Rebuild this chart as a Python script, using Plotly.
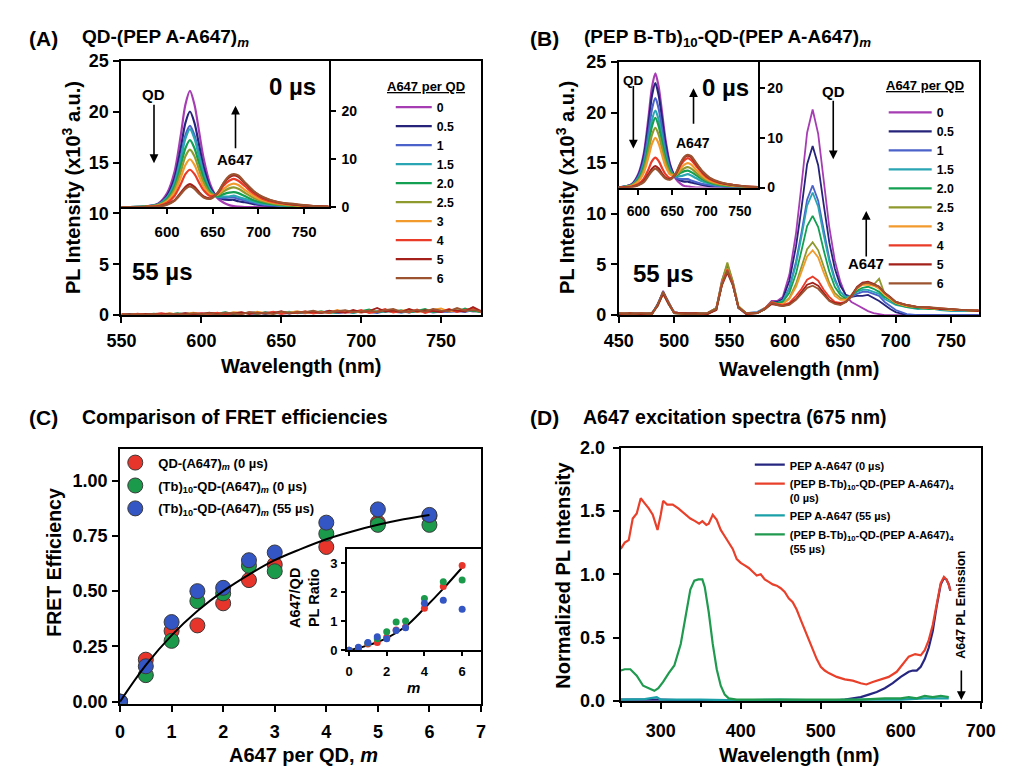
import plotly.graph_objects as go

W, H = 1012, 776
OFF = 8  # default page margin of the browser body
FONT = "Liberation Sans, Arial, Helvetica, sans-serif"


def px(x):
    return (x - OFF) / W


def py(y):
    return 1 - (y - OFF) / H


# ---------------- shared series info (A647 per QD) ----------------
series_labels = ["0", "0.5", "1", "1.5", "2.0", "2.5", "3", "4", "5", "6"]
series_colors = ["#a63db3", "#25237a", "#4a62c9", "#2aa5b3", "#14a052",
                 "#8f9a2e", "#f39a2c", "#e93b27", "#a3201b", "#9c5430"]

# ---------------- Panel A inset: 0 us spectra ----------------
wl_a_inset = [550, 575, 590, 600, 608, 615, 620, 625, 630, 635, 640, 647,
              655, 662, 668, 673, 678, 685, 695, 705, 720, 740, 760, 777]
a_in_0 = [0, 0.1, 0.7, 2.9, 7.3, 15.1, 21.4, 24.3, 21.4, 15.8, 10.2, 4.9, 1.9, 0.9, 0.4, 0.2, 0.1, 0, 0, 0, 0, 0, 0, 0]
a_in_05 = [0, 0.1, 0.6, 2.4, 6.0, 12.4, 17.6, 20.0, 17.6, 13.0, 8.4, 4.2, 2.1, 1.6, 1.5, 1.5, 1.2, 1.0, 0.6, 0.4, 0.2, 0.1, 0.04, 0]
a_in_1 = [0, 0.1, 0.5, 2.0, 5.1, 10.5, 15.0, 17.0, 15.0, 11.1, 7.2, 3.6, 2.1, 1.9, 2.0, 2.0, 1.7, 1.4, 0.9, 0.5, 0.3, 0.1, 0.05, 0]
a_in_15 = [0, 0.1, 0.5, 2.0, 4.9, 10.1, 14.3, 16.3, 14.3, 10.6, 6.9, 3.6, 2.1, 2.2, 2.2, 2.4, 2.1, 1.7, 1.1, 0.7, 0.4, 0.2, 0.1, 0]
a_in_2 = [0, 0.1, 0.4, 1.7, 4.2, 8.7, 12.3, 14.0, 12.3, 9.1, 6.0, 3.2, 2.2, 2.7, 3.0, 3.1, 2.9, 2.3, 1.4, 0.9, 0.5, 0.2, 0.1, 0]
a_in_25 = [0, 0.1, 0.4, 1.4, 3.6, 7.4, 10.6, 12.0, 10.6, 7.8, 5.1, 2.9, 2.5, 3.3, 3.9, 4.1, 3.8, 3.0, 1.9, 1.2, 0.6, 0.3, 0.1, 0]
a_in_3 = [0, 0, 0.3, 1.2, 3.0, 6.2, 8.8, 10.0, 8.8, 6.5, 4.3, 2.6, 2.6, 3.8, 4.6, 4.9, 4.6, 3.6, 2.3, 1.4, 0.8, 0.4, 0.1, 0]
a_in_4 = [0, 0, 0.2, 0.9, 2.3, 4.8, 6.9, 7.8, 6.9, 5.1, 3.5, 2.3, 2.8, 4.5, 5.5, 5.9, 5.5, 4.4, 2.8, 1.7, 0.9, 0.5, 0.2, 0.1]
a_in_5 = [0, 0, 0.1, 0.6, 1.4, 3.0, 4.2, 4.8, 4.2, 3.1, 2.2, 1.8, 2.9, 5.0, 6.2, 6.6, 6.3, 5.0, 3.2, 2.0, 1.1, 0.5, 0.2, 0.1]
a_in_6 = [0, 0, 0.1, 0.5, 1.3, 2.7, 3.8, 4.3, 3.8, 2.8, 2.0, 1.7, 2.9, 5.1, 6.5, 6.9, 6.6, 5.2, 3.3, 2.1, 1.1, 0.6, 0.2, 0.1]
a_inset_series = [a_in_0, a_in_05, a_in_1, a_in_15, a_in_2, a_in_25, a_in_3, a_in_4, a_in_5, a_in_6]

# ---------------- Panel A main: 55 us (noise only) ----------------
wl_a_main = list(range(550, 780, 5))
a55_red = [0.10, 0.00, 0.15, 0.05, 0.10, 0.20, 0.05, 0.10, 0.00, 0.15, 0.20, 0.10, 0.25, 0.05, 0.20, 0.10, 0.30, 0.15, 0.20, 0.35, 0.10, 0.25, 0.20, 0.40, 0.15, 0.30, 0.20, 0.45, 0.25, 0.30, 0.50, 0.20, 0.35, 0.60, 0.25, 0.40, 0.30, 0.55, 0.20, 0.45, 0.35, 0.60, 0.30, 0.50, 0.70, 0.30]
a55_dred = [0.05, 0.10, 0.00, 0.12, 0.08, 0.05, 0.15, 0.10, 0.20, 0.05, 0.12, 0.25, 0.10, 0.20, 0.15, 0.30, 0.10, 0.25, 0.15, 0.20, 0.40, 0.15, 0.30, 0.25, 0.35, 0.20, 0.45, 0.30, 0.25, 0.50, 0.30, 0.40, 0.70, 0.35, 0.45, 0.30, 0.60, 0.35, 0.50, 0.40, 0.30, 0.55, 0.45, 0.35, 0.80, 0.40]
a55_green = [0.00, 0.08, 0.10, 0.00, 0.15, 0.10, 0.05, 0.20, 0.10, 0.15, 0.05, 0.20, 0.15, 0.30, 0.10, 0.20, 0.25, 0.10, 0.30, 0.15, 0.25, 0.30, 0.20, 0.35, 0.25, 0.40, 0.20, 0.30, 0.35, 0.25, 0.40, 0.55, 0.30, 0.40, 0.35, 0.50, 0.25, 0.45, 0.60, 0.30, 0.40, 0.50, 0.35, 0.65, 0.40, 0.30]
a55_orange = [0.10, 0.05, 0.10, 0.12, 0.00, 0.10, 0.20, 0.05, 0.15, 0.25, 0.10, 0.15, 0.20, 0.10, 0.30, 0.25, 0.15, 0.35, 0.20, 0.15, 0.30, 0.25, 0.40, 0.20, 0.30, 0.35, 0.25, 0.50, 0.30, 0.40, 0.25, 0.45, 0.35, 0.50, 0.30, 0.40, 0.55, 0.30, 0.40, 0.50, 0.65, 0.35, 0.50, 0.40, 0.60, 0.35]
a55_blue = [0.05, 0.10, 0.05, 0.00, 0.10, 0.15, 0.10, 0.00, 0.20, 0.10, 0.15, 0.05, 0.20, 0.25, 0.10, 0.15, 0.20, 0.30, 0.10, 0.25, 0.20, 0.15, 0.30, 0.25, 0.20, 0.30, 0.40, 0.20, 0.30, 0.25, 0.35, 0.30, 0.20, 0.40, 0.30, 0.25, 0.35, 0.30, 0.45, 0.25, 0.35, 0.30, 0.40, 0.30, 0.50, 0.30]
a55_brown = [0.08, 0.00, 0.10, 0.05, 0.12, 0.00, 0.10, 0.15, 0.05, 0.20, 0.10, 0.20, 0.05, 0.25, 0.20, 0.10, 0.30, 0.20, 0.25, 0.10, 0.35, 0.20, 0.30, 0.30, 0.45, 0.25, 0.30, 0.40, 0.50, 0.30, 0.35, 0.45, 0.30, 0.50, 0.60, 0.35, 0.40, 0.50, 0.35, 0.60, 0.45, 0.40, 0.70, 0.45, 0.50, 0.40]
a55_teal = [0.05, 0.12, 0.02, 0.10, 0.05, 0.08, 0.12, 0.05, 0.15, 0.20, 0.08, 0.18, 0.22, 0.12, 0.25, 0.15, 0.20, 0.28, 0.12, 0.30, 0.22, 0.35, 0.18, 0.28, 0.40, 0.22, 0.32, 0.25, 0.45, 0.20, 0.38, 0.28, 0.45, 0.30, 0.55, 0.25, 0.40, 0.35, 0.50, 0.30, 0.45, 0.35, 0.55, 0.40, 0.45, 0.35]
a55_purple = [0.02, 0.06, 0.10, 0.04, 0.08, 0.12, 0.06, 0.10, 0.14, 0.08, 0.16, 0.10, 0.22, 0.14, 0.12, 0.25, 0.18, 0.10, 0.28, 0.20, 0.15, 0.32, 0.22, 0.18, 0.30, 0.26, 0.38, 0.20, 0.32, 0.42, 0.25, 0.36, 0.28, 0.48, 0.30, 0.38, 0.26, 0.45, 0.32, 0.55, 0.30, 0.42, 0.36, 0.50, 0.34, 0.45]
a55_series = [(a55_purple, 0), (a55_blue, 2), (a55_teal, 3), (a55_green, 4), (a55_orange, 6),
              (a55_red, 7), (a55_dred, 8), (a55_brown, 9)]

# ---------------- Panel B inset: 0 us spectra ----------------
wl_b_inset = [570, 590, 600, 608, 615, 620, 625, 630, 635, 640, 647, 655,
              662, 668, 673, 678, 685, 695, 705, 720, 740, 760, 777]
b_in_0 = [0, 0.7, 2.8, 6.9, 14.3, 20.2, 23.0, 20.2, 15.0, 9.7, 4.6, 1.8, 0.8, 0.3, 0.2, 0.1, 0, 0, 0, 0, 0, 0, 0]
b_in_05 = [0, 0.6, 2.5, 6.3, 13.0, 18.5, 21.0, 18.5, 13.7, 8.8, 4.3, 2.1, 1.4, 1.2, 1.2, 1.0, 0.8, 0.5, 0.3, 0.2, 0.1, 0, 0]
b_in_1 = [0, 0.5, 2.2, 5.4, 11.2, 15.8, 18.0, 15.8, 11.7, 7.6, 3.8, 2.0, 1.7, 1.7, 1.7, 1.4, 1.1, 0.7, 0.5, 0.2, 0.1, 0, 0]
b_in_15 = [0, 0.5, 1.9, 4.7, 9.6, 13.6, 15.5, 13.6, 10.1, 6.6, 3.4, 2.2, 2.3, 2.5, 2.7, 2.4, 1.9, 1.2, 0.8, 0.4, 0.2, 0.1, 0]
b_in_2 = [0, 0.4, 1.7, 4.2, 8.7, 12.3, 14.0, 12.3, 9.1, 6.0, 3.2, 2.4, 2.9, 3.3, 3.4, 3.1, 2.5, 1.6, 1.0, 0.5, 0.3, 0.1, 0]
b_in_25 = [0, 0.4, 1.4, 3.6, 7.4, 10.6, 12.0, 10.6, 7.8, 5.1, 2.9, 2.5, 3.3, 3.9, 4.1, 3.8, 3.0, 1.9, 1.2, 0.6, 0.3, 0.1, 0]
b_in_3 = [0, 0.3, 1.2, 3.0, 6.2, 8.8, 10.0, 8.8, 6.5, 4.3, 2.6, 2.6, 3.8, 4.6, 4.9, 4.6, 3.6, 2.3, 1.4, 0.8, 0.4, 0.1, 0]
b_in_4 = [0, 0.2, 0.7, 1.8, 3.7, 5.3, 6.0, 5.3, 3.9, 2.7, 1.9, 2.7, 4.4, 5.5, 5.9, 5.5, 4.4, 2.8, 1.7, 0.9, 0.5, 0.2, 0.1]
b_in_5 = [0, 0.1, 0.5, 1.3, 2.7, 3.8, 4.3, 3.8, 2.8, 2.0, 1.7, 2.7, 4.8, 6.1, 6.4, 6.1, 4.8, 3.1, 1.9, 1.0, 0.5, 0.2, 0.1]
b_in_6 = [0, 0.1, 0.5, 1.1, 2.4, 3.3, 3.8, 3.3, 2.5, 1.8, 1.6, 2.8, 4.9, 6.2, 6.6, 6.3, 5.0, 3.2, 2.0, 1.1, 0.5, 0.2, 0.1]
b_inset_series = [b_in_0, b_in_05, b_in_1, b_in_15, b_in_2, b_in_25, b_in_3, b_in_4, b_in_5, b_in_6]

# ---------------- Panel B main: 55 us spectra ----------------
wl_b_main = [450, 460, 470, 480, 485, 490, 495, 500, 510, 520, 530, 538, 543, 548, 553, 558,
             565, 575, 582, 588, 593, 598, 604, 610, 615, 620, 625, 630, 635, 640, 645, 650,
             655, 660, 665, 670, 675, 680, 685, 690, 695, 700, 710, 720, 730, 740, 750, 760, 775]
b55_0 = [0.1, 0.2, 0.1, 0.2, 1.0, 2.4, 1.2, 0.2, 0.1, 0.2, 0.1, 0.6, 3.4, 5.0, 3.3, 0.8, 0.2, 0.3, 0.7, 1.4, 1.4, 1.8,
         4.0, 8.1, 12.9, 18.0, 20.3, 17.9, 13.3, 8.7, 5.4, 3.3, 1.9, 1.3, 1.0, 0.7, 0.4, 0.2, 0.1, 0.0, 0.0, 0.0, 0.0, 0.0, 0.0, 0.0, 0.0, 0.0, 0.0]
b55_05 = [0.2, 0.1, 0.2, 0.1, 1.1, 2.2, 1.1, 0.3, 0.1, 0.1, 0.2, 0.7, 3.0, 4.6, 3.0, 0.7, 0.1, 0.2, 0.6, 1.3, 1.3, 1.6,
          3.4, 6.8, 10.6, 14.9, 16.7, 14.8, 10.9, 7.2, 4.6, 2.9, 2.0, 1.8, 1.9, 1.9, 2.0, 1.7, 1.4, 1.0, 0.6, 0.3, 0.0, 0.0, 0.0, 0.0, 0.0, 0.0, 0.0]
b55_1 = [0.1, 0.2, 0.2, 0.1, 1.0, 2.3, 1.3, 0.2, 0.2, 0.1, 0.1, 0.6, 3.1, 4.7, 3.1, 0.8, 0.2, 0.2, 0.6, 1.2, 1.2, 1.4,
         2.7, 5.3, 8.2, 11.4, 12.8, 11.3, 8.4, 5.6, 3.6, 2.3, 1.8, 1.8, 2.1, 2.3, 2.3, 2.1, 1.9, 1.3, 0.9, 0.5, 0.1, 0.0, 0.0, 0.0, 0.0, 0.0, 0.0]
b55_15 = [0.2, 0.1, 0.1, 0.2, 0.9, 2.2, 1.2, 0.3, 0.1, 0.2, 0.2, 0.5, 3.0, 4.9, 3.2, 0.7, 0.2, 0.3, 0.7, 1.3, 1.2, 1.4,
          2.6, 5.0, 7.8, 10.8, 12.1, 10.7, 7.9, 5.3, 3.4, 2.3, 1.8, 1.9, 2.3, 2.5, 2.5, 2.3, 2.1, 1.6, 1.3, 1.0, 0.8, 0.6, 0.7, 0.5, 0.4, 0.4, 0.4]
b55_2 = [0.1, 0.2, 0.1, 0.2, 1.0, 2.3, 1.1, 0.2, 0.1, 0.2, 0.1, 0.6, 3.2, 4.8, 3.1, 0.8, 0.2, 0.2, 0.6, 1.2, 1.2, 1.3,
         2.2, 4.1, 6.4, 8.8, 9.8, 8.7, 6.4, 4.3, 2.8, 2.0, 1.6, 1.9, 2.4, 2.7, 2.8, 2.6, 2.3, 1.8, 1.5, 1.1, 0.8, 0.7, 0.6, 0.6, 0.5, 0.5, 0.4]
b55_25 = [0.2, 0.1, 0.2, 0.1, 1.0, 2.2, 1.2, 0.2, 0.2, 0.1, 0.2, 0.7, 3.3, 5.2, 3.3, 0.9, 0.2, 0.2, 0.7, 1.3, 1.1, 1.1,
          1.7, 3.1, 4.8, 6.5, 7.2, 6.4, 4.8, 3.2, 2.2, 1.7, 1.5, 2.0, 2.7, 3.1, 3.1, 3.0, 3.6, 2.1, 1.7, 1.2, 0.9, 0.8, 0.7, 0.6, 0.6, 0.5, 0.4]
b55_3 = [0.1, 0.2, 0.1, 0.2, 0.9, 2.1, 1.1, 0.2, 0.1, 0.2, 0.1, 0.6, 3.0, 4.6, 3.0, 0.8, 0.1, 0.2, 0.6, 1.2, 1.1, 1.1,
         1.6, 2.8, 4.3, 5.8, 6.4, 5.7, 4.2, 2.9, 1.9, 1.5, 1.5, 1.9, 2.6, 3.0, 3.0, 2.9, 2.6, 2.0, 1.6, 1.2, 0.9, 0.8, 0.7, 0.6, 0.5, 0.5, 0.4]
b55_4 = [0.2, 0.1, 0.2, 0.1, 1.0, 2.2, 1.2, 0.3, 0.1, 0.1, 0.2, 0.6, 3.1, 4.5, 3.1, 0.7, 0.2, 0.2, 0.7, 1.3, 1.1, 1.0,
         1.2, 1.9, 2.6, 3.5, 3.8, 3.4, 2.5, 1.8, 1.3, 1.2, 1.3, 1.9, 2.7, 3.1, 3.2, 3.0, 2.8, 2.2, 1.7, 1.3, 1.0, 0.8, 0.7, 0.7, 0.6, 0.5, 0.5]
b55_5 = [0.1, 0.2, 0.1, 0.2, 0.9, 2.1, 1.1, 0.2, 0.2, 0.2, 0.1, 0.5, 2.9, 4.2, 2.9, 0.8, 0.1, 0.2, 0.6, 1.1, 1.0, 0.9,
         1.1, 1.6, 2.3, 3.0, 3.2, 2.9, 2.2, 1.5, 1.2, 1.1, 1.3, 1.9, 2.8, 3.2, 3.3, 3.1, 2.8, 2.2, 1.8, 1.3, 1.0, 0.8, 0.8, 0.6, 0.6, 0.5, 0.4]
b55_6 = [0.2, 0.1, 0.2, 0.1, 1.0, 2.3, 1.2, 0.2, 0.1, 0.1, 0.2, 0.6, 3.0, 4.4, 3.0, 0.7, 0.2, 0.2, 0.6, 1.2, 1.0, 0.9,
         1.0, 1.5, 2.1, 2.7, 2.9, 2.6, 2.0, 1.4, 1.1, 1.0, 1.3, 1.8, 2.7, 3.1, 3.2, 3.0, 2.8, 2.2, 1.7, 1.3, 1.0, 0.8, 0.8, 0.7, 0.6, 0.5, 0.5]
b55_series = [b55_0, b55_05, b55_1, b55_15, b55_2, b55_25, b55_3, b55_4, b55_5, b55_6]

# ---------------- Panel C: FRET efficiencies ----------------
m_vals = [0, 0.5, 1, 1.5, 2, 2.5, 3, 4, 5, 6]
eff_qd_0us = [0, 0.19, 0.32, 0.345, 0.445, 0.55, 0.62, 0.70, 0.81, 0.84]
eff_tb_0us = [0, 0.12, 0.275, 0.455, 0.49, 0.615, 0.59, 0.76, 0.80, 0.80]
eff_tb_55us = [0, 0.16, 0.36, 0.50, 0.515, 0.64, 0.675, 0.81, 0.87, 0.845]
fit_m = [0, 0.5, 1, 1.5, 2, 2.5, 3, 3.5, 4, 4.5, 5, 5.5, 6]
fit_eff = [0, 0.165, 0.30, 0.41, 0.50, 0.575, 0.64, 0.69, 0.735, 0.77, 0.80, 0.825, 0.845]

ratio_qd_0us = [0, 0.08, 0.22, 0.27, 0.45, 0.70, 0.80, 1.45, 2.20, 2.93]
ratio_tb_0us = [0, 0.08, 0.25, 0.40, 0.64, 0.98, 1.01, 1.79, 2.37, 2.43]
ratio_tb_55us = [0, 0.10, 0.27, 0.47, 0.40, 0.68, 0.78, 1.62, 1.73, 1.42]
ratio_fit_m = [0, 1, 2, 3, 4, 5, 6]
ratio_fit = [0, 0.17, 0.42, 0.82, 1.45, 2.13, 2.86]

c_colors = ["#e8352b", "#1c9a4c", "#3455c4"]
c_labels = ["QD-(A647)<sub><i>m</i></sub> (0 µs)",
            "(Tb)<sub>10</sub>-QD-(A647)<sub><i>m</i></sub> (0 µs)",
            "(Tb)<sub>10</sub>-QD-(A647)<sub><i>m</i></sub> (55 µs)"]

# ---------------- Panel D: excitation spectra ----------------
wl_d_red = [250, 255, 260, 265, 270, 275, 280, 285, 290, 296, 300, 303, 308, 315, 322, 330, 337, 343,
            348, 352, 357, 360, 365, 370, 375, 380, 385, 390, 395, 400, 405, 410, 415, 420, 425, 430,
            435, 440, 445, 450, 455, 460, 465, 470, 475, 480, 485, 490, 495, 500, 505, 510, 520, 530,
            540, 550, 557, 565, 575, 585, 595, 603, 610, 618, 625, 630, 635, 640, 645, 650, 654, 657, 660, 662]
d_red = [1.20, 1.25, 1.27, 1.44, 1.48, 1.60, 1.56, 1.52, 1.47, 1.35, 1.47, 1.58, 1.55, 1.55, 1.52, 1.48, 1.44, 1.42,
         1.40, 1.42, 1.39, 1.40, 1.47, 1.43, 1.35, 1.30, 1.25, 1.20, 1.12, 1.09, 1.07, 1.05, 1.02, 0.99, 1.00, 0.96,
         0.94, 0.92, 0.91, 0.89, 0.86, 0.81, 0.78, 0.72, 0.64, 0.56, 0.48, 0.40, 0.33, 0.27, 0.24, 0.22, 0.19, 0.17,
         0.16, 0.14, 0.13, 0.15, 0.17, 0.19, 0.23, 0.29, 0.35, 0.37, 0.36, 0.40, 0.48, 0.60, 0.78, 0.93, 0.98, 0.96, 0.92, 0.87]
wl_d_navy = [250, 300, 350, 400, 450, 500, 520, 530, 540, 550, 560, 570, 580, 590, 600, 605, 610, 615,
             620, 625, 630, 635, 640, 645, 650, 654, 657, 660, 662]
d_navy = [0.01, 0.01, 0.0, 0.0, 0.0, 0.0, 0.005, 0.01, 0.02, 0.03, 0.05, 0.07, 0.10, 0.14, 0.19, 0.21, 0.23, 0.24,
          0.24, 0.27, 0.33, 0.42, 0.55, 0.75, 0.92, 0.97, 0.96, 0.92, 0.87]
wl_d_teal = [250, 280, 295, 300, 350, 400, 450, 500, 550, 600, 630, 660]
d_teal = [0.01, 0.015, 0.03, 0.01, 0.01, 0.005, 0.01, 0.005, 0.01, 0.01, 0.02, 0.02]
wl_d_green = [250, 255, 262, 270, 278, 285, 292, 297, 303, 310, 317, 325, 331, 337, 342, 347, 352, 355, 360,
              365, 370, 375, 380, 385, 395, 450, 500, 550, 580, 600, 610, 620, 630, 640, 650, 660]
d_green = [0.24, 0.25, 0.25, 0.20, 0.12, 0.10, 0.08, 0.10, 0.15, 0.22, 0.28, 0.45, 0.68, 0.88, 0.95, 0.96, 0.96, 0.90, 0.70,
           0.45, 0.25, 0.12, 0.05, 0.02, 0.01, 0.01, 0.01, 0.01, 0.02, 0.02, 0.03, 0.02, 0.04, 0.03, 0.04, 0.03]
d_names = ["PEP A-A647 (0 µs)",
           "(PEP B-Tb)<sub>10</sub>-QD-(PEP A-A647)<sub>4</sub><br>(0 µs)",
           "PEP A-A647 (55 µs)",
           "(PEP B-Tb)<sub>10</sub>-QD-(PEP A-A647)<sub>4</sub><br>(55 µs)"]
d_colors = ["#262680", "#e8402a", "#1aa0a8", "#1f9a4f"]

for arr in a_inset_series:
    assert len(arr) == len(wl_a_inset)
for arr in b_inset_series:
    assert len(arr) == len(wl_b_inset)
for arr in b55_series:
    assert len(arr) == len(wl_b_main)
for arr, _ in a55_series:
    assert len(arr) == len(wl_a_main)
assert len(d_red) == len(wl_d_red) and len(d_navy) == len(wl_d_navy)
assert len(d_green) == len(wl_d_green) and len(d_teal) == len(wl_d_teal)

fig = go.Figure()

# Panel A
for arr, ci in a55_series:
    fig.add_trace(go.Scatter(x=wl_a_main, y=arr, mode="lines", xaxis="x", yaxis="y",
                             line=dict(color=series_colors[ci], width=1.8), showlegend=False))
for lab, col, arr in zip(series_labels, series_colors, a_inset_series):
    fig.add_trace(go.Scatter(x=wl_a_inset, y=arr, mode="lines", xaxis="x2", yaxis="y2", name=lab,
                             line=dict(color=col, width=2.2, shape="spline", smoothing=0.8),
                             legend="legend"))

# Panel B
for lab, col, arr in zip(series_labels, series_colors, b55_series):
    fig.add_trace(go.Scatter(x=wl_b_main, y=arr, mode="lines", xaxis="x3", yaxis="y3",
                             line=dict(color=col, width=1.8), showlegend=False))
for lab, col, arr in zip(series_labels, series_colors, b_inset_series):
    fig.add_trace(go.Scatter(x=wl_b_inset, y=arr, mode="lines", xaxis="x4", yaxis="y4", name=lab,
                             line=dict(color=col, width=2.2, shape="spline", smoothing=0.8),
                             legend="legend2"))

# Panel C
for lab, col, arr, grp in zip(c_labels, c_colors, [eff_qd_0us, eff_tb_0us, eff_tb_55us], ["c1", "c2", "c3"]):
    fig.add_trace(go.Scatter(x=m_vals, y=arr, mode="markers", xaxis="x5", yaxis="y5", name=lab,
                             marker=dict(color=col, size=15, line=dict(color="#3a3a3a", width=1)),
                             legend="legend3", legendgroup=grp))
fig.add_trace(go.Scatter(x=fit_m, y=fit_eff, mode="lines", xaxis="x5", yaxis="y5",
                         line=dict(color="black", width=2, shape="spline"), showlegend=False))
fig.add_trace(go.Scatter(x=ratio_fit_m, y=ratio_fit, mode="lines", xaxis="x6", yaxis="y6",
                         line=dict(color="black", width=2, shape="spline"), showlegend=False))
for col, arr in zip(c_colors, [ratio_qd_0us, ratio_tb_0us, ratio_tb_55us]):
    fig.add_trace(go.Scatter(x=m_vals, y=arr, mode="markers", xaxis="x6", yaxis="y6",
                             marker=dict(color=col, size=7), showlegend=False))

# Panel D
for name, col, xs, ys in zip(d_names, d_colors,
                             [wl_d_navy, wl_d_red, wl_d_teal, wl_d_green],
                             [d_navy, d_red, d_teal, d_green]):
    fig.add_trace(go.Scatter(x=xs, y=ys, mode="lines", xaxis="x7", yaxis="y7", name=name,
                             line=dict(color=col, width=2.2), legend="legend4"))


def tfont(size):
    return dict(family=FONT, size=size, color="black", weight="bold")


def axis(domain, rng, tickvals, anchor, size=18, mirror=True, ticklen=6, standoff=0, **kw):
    d = dict(domain=domain, range=rng, tickvals=tickvals, anchor=anchor, showline=True,
             linecolor="black", linewidth=2, mirror=mirror, ticks="outside", ticklen=ticklen,
             tickwidth=2, tickcolor="black", showgrid=False, zeroline=False,
             tickfont=tfont(size), fixedrange=True, ticklabelstandoff=standoff)
    d.update(kw)
    return d


layout = dict(
    width=W, height=H, margin=dict(l=0, r=0, t=0, b=0),
    paper_bgcolor="white", plot_bgcolor="rgba(0,0,0,0)",
    font=dict(family=FONT, color="black"),
    # A
    xaxis=axis([px(109.5), px(480)], [550, 775], [550, 600, 650, 700, 750], "y", standoff=2),
    yaxis=axis([py(313), py(52)], [0, 25], [0, 5, 10, 15, 20, 25], "x", standoff=1),
    xaxis2=axis([px(109.5), px(323)], [550, 777], [600, 650, 700, 750], "y2", size=15, mirror=False,
                ticklen=5, standoff=5),
    yaxis2=axis([py(202), py(52)], [0, 30.6], [0, 10, 20], "x2", size=14, mirror=False, ticklen=5,
                side="right", standoff=3),
    # B
    xaxis3=axis([px(622), px(993)], [450, 775], [450, 500, 550, 600, 650, 700, 750], "y3", standoff=2),
    yaxis3=axis([py(313), py(53)], [0, 25], [0, 5, 10, 15, 20, 25], "x3", standoff=1),
    xaxis4=axis([px(622), px(765)], [571, 776], [600, 650, 700, 750], "y4", size=14, mirror=False,
                ticklen=5, standoff=5),
    yaxis4=axis([py(182), py(53)], [0, 25.3], [0, 10, 20], "x4", size=14, mirror=False, ticklen=5,
                side="right"),
    # C
    xaxis5=axis([px(108), px(480)], [0, 7], [0, 1, 2, 3, 4, 5, 6, 7], "y5", standoff=5),
    yaxis5=axis([py(712), py(450)], [-0.01, 1.145], [0, 0.25, 0.5, 0.75, 1.0], "x5", tickformat=".2f",
                standoff=1),
    xaxis6=axis([px(342), px(480)], [-0.1, 7], [0, 2, 4, 6], "y6", size=13, ticklen=4, standoff=4),
    yaxis6=axis([py(657), py(553)], [0, 3.5], [0, 1, 2, 3], "x6", size=13, ticklen=4, standoff=1),
    # D
    xaxis7=axis([px(624), px(995)], [250, 700], [300, 400, 500, 600, 700], "y7", standoff=6,
                minor=dict(tickvals=[250, 350, 450, 550, 650], ticks="outside", ticklen=4,
                           tickwidth=2, tickcolor="black")),
    yaxis7=axis([py(709), py(449)], [0, 2.0], [0, 0.5, 1.0, 1.5, 2.0], "x7", tickformat=".1f",
                standoff=4),
    legend=dict(x=px(387), y=py(84.5), xanchor="left", yanchor="top", bgcolor="rgba(0,0,0,0)",
                font=tfont(12.3), tracegroupgap=0, itemwidth=36),
    legend2=dict(x=px(895), y=py(90), xanchor="left", yanchor="top", bgcolor="rgba(0,0,0,0)",
                 font=tfont(12.3), tracegroupgap=0, itemwidth=43),
    legend3=dict(x=px(100), y=py(449), xanchor="left", yanchor="top", bgcolor="rgba(0,0,0,0)",
                 font=tfont(13), tracegroupgap=3, itemwidth=36),
    legend4=dict(x=px(757), y=py(452.5), xanchor="left", yanchor="top", bgcolor="rgba(0,0,0,0)",
                 font=tfont(11), tracegroupgap=0, valign="top", itemwidth=30),
)
fig.update_layout(**layout)


def ann(text, x, y, size, xanchor="center", angle=0):
    return dict(text=text, x=px(x), y=py(y), xref="paper", yref="paper", showarrow=False,
                xanchor=xanchor, yanchor="middle", textangle=angle, font=tfont(size))


def arrow(x, y_head, dy):
    return dict(text="", x=px(x), y=py(y_head), xref="paper", yref="paper", showarrow=True,
                ax=0, ay=dy, arrowhead=2, arrowsize=1.1, arrowwidth=1.6, arrowcolor="black")


anns = [
    # panel titles
    ann("(A)", 12, 29, 21, "left"),
    ann("QD-(PEP A-A647)<sub><i>m</i></sub>", 67, 29, 19, "left"),
    ann("(B)", 528, 29, 21, "left"),
    ann("(PEP B-Tb)<sub>10</sub>-QD-(PEP A-A647)<sub><i>m</i></sub>", 584, 29, 19, "left"),
    ann("(C)", 12, 418, 21, "left"),
    ann("Comparison of FRET efficiencies", 67, 418, 19.5, "left"),
    ann("(D)", 528, 418, 21, "left"),
    ann("A647 excitation spectra (675 nm)", 583, 418, 19.5, "left"),
    # axis titles
    ann("PL Intensity (x10<sup>3</sup> a.u.)", 58, 182, 20, angle=-90),
    ann("Wavelength (nm)", 294, 365, 20),
    ann("PL Intensity (x10<sup>3</sup> a.u.)", 567, 182, 20, angle=-90),
    ann("Wavelength (nm)", 808, 368, 20),
    ann("FRET Efficiency", 40, 567, 19.5, angle=-90),
    ann("A647 per QD, <i>m</i>", 297, 765, 20),
    ann("Normalized PL Intensity", 565, 580, 20, angle=-90),
    ann("Wavelength (nm)", 808, 764, 20),
    ann("A647/QD<br>PL Ratio", 298, 603, 14.5, angle=-90),
    ann("<i>m</i>", 410, 695, 15),
    # legend titles
    ann("<u>A647 per QD</u>", 423, 78, 13),
    ann("<u>A647 per QD</u>", 938, 77, 13),
    # in-plot labels A
    ann("0 µs", 286, 78, 24),
    ann("55 µs", 152, 268, 24),
    ann("QD", 143, 87, 15),
    ann("A647", 226, 153, 15),
    arrow(143, 157, -60),
    arrow(227, 98, 44),
    # in-plot labels B
    ann("QD", 637, 72, 13.5),
    ann("0 µs", 732, 79, 24),
    ann("A647", 698, 136, 14),
    ann("QD", 843, 83, 15),
    ann("A647", 877, 260, 15),
    ann("55 µs", 668, 270, 24),
    arrow(637, 142, -64),
    arrow(699, 80, 37),
    arrow(843, 153, -60),
    arrow(877, 206, 47),
    # D
    ann("A647 PL Emission", 975, 610, 12.5, angle=-90),
    arrow(975, 708, -31),
]
fig.update_layout(annotations=anns)

fig.write_html("out.html")
